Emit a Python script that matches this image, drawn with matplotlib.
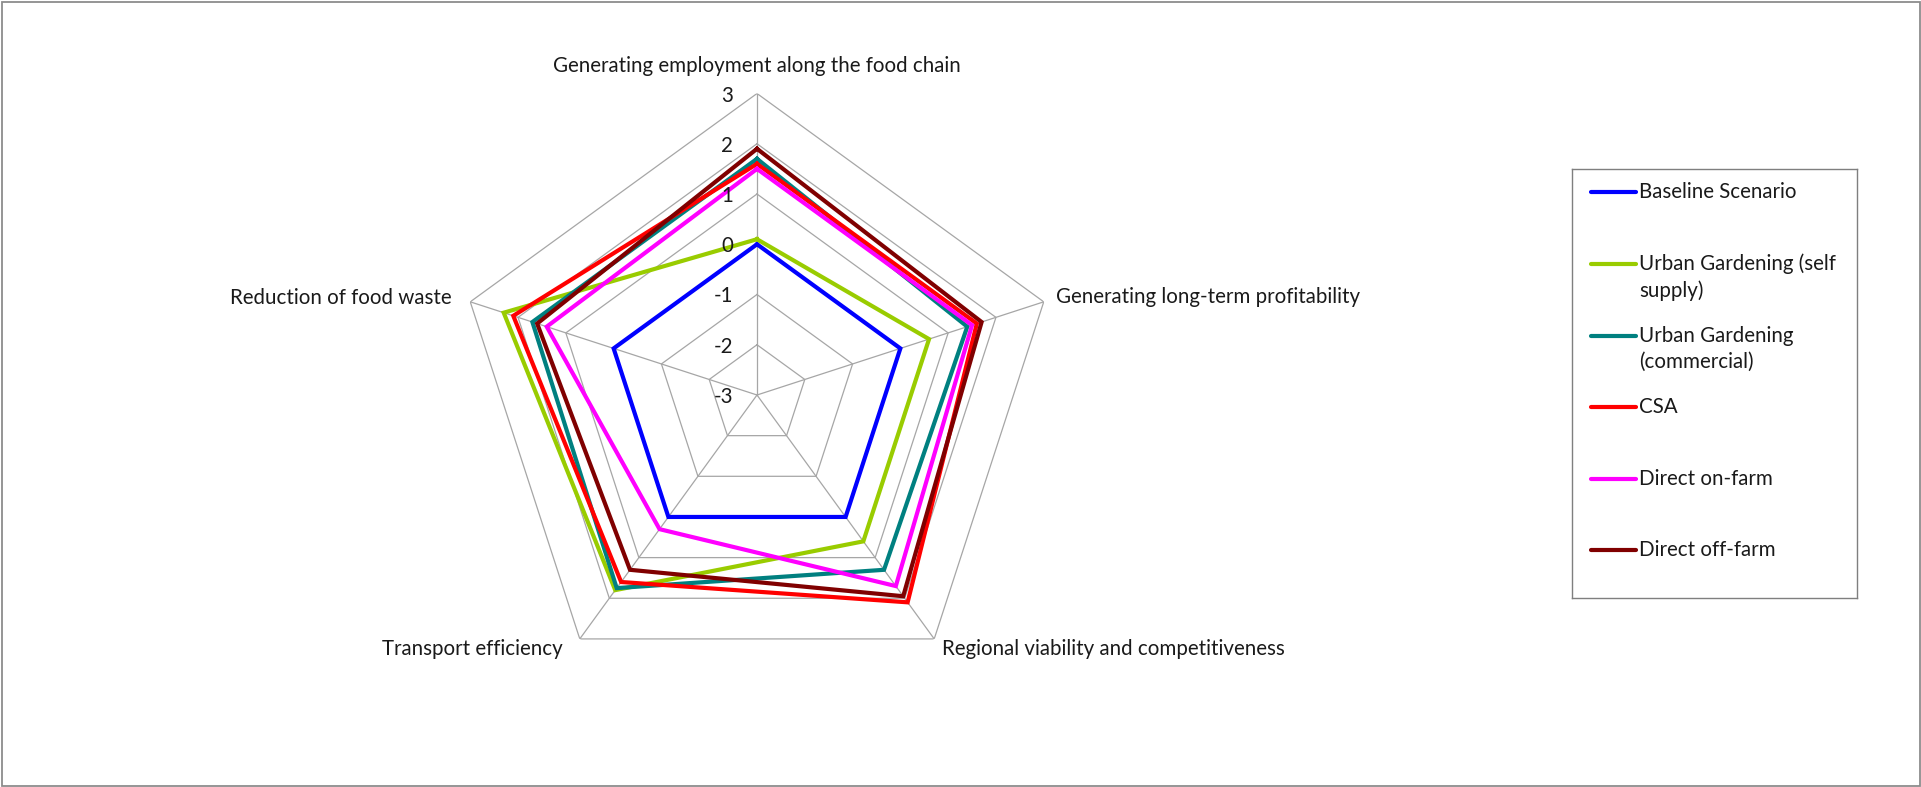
import numpy as np
import matplotlib
matplotlib.use("Agg")
import matplotlib.pyplot as plt
from matplotlib.patches import Rectangle

# ---------------- data ----------------
categories = [
    "Generating employment along the food chain",
    "Generating long-term profitability",
    "Regional viability and competitiveness",
    "Transport efficiency",
    "Reduction of food waste",
]
series_names = [
    "Baseline Scenario",
    "Urban Gardening (self\nsupply)",
    "Urban Gardening\n(commercial)",
    "CSA",
    "Direct on-farm",
    "Direct off-farm",
]
baseline = [0.0, 0.0, 0.0, 0.0, 0.0]
ug_self = [0.1, 0.6, 0.6, 1.8, 2.3]
ug_commercial = [1.7, 1.4, 1.3, 1.75, 1.7]
csa = [1.6, 1.6, 2.1, 1.6, 2.1]
direct_on_farm = [1.5, 1.5, 1.7, 0.3, 1.4]
direct_off_farm = [1.9, 1.7, 1.95, 1.3, 1.6]
series_values = [baseline, ug_self, ug_commercial, csa, direct_on_farm, direct_off_farm]
colors = ["#0000FF", "#99CC00", "#008080", "#FF0000", "#FF00FF", "#800000"]
ticks = [-3, -2, -1, 0, 1, 2, 3]

# ---------------- style ----------------
FONT = "Lato"
plt.rcParams["font.family"] = [FONT, "DejaVu Sans"]
TXT = "#1A1A1A"
GRID = "#A6A6A6"
FS = 14.8
LW = 3.0

W, H = 1921, 787
fig = plt.figure(figsize=(W / 100, H / 100), dpi=100)
fig.patch.set_facecolor("white")

cx, cy, R = 757.0, 395.0, 301.5
ax = fig.add_axes([(cx - R) / W, (H - cy - R) / H, 2 * R / W, 2 * R / H],
                  projection="polar")
ax.set_theta_offset(np.pi / 2)
ax.set_theta_direction(-1)
ax.set_ylim(ticks[0], ticks[-1])
ax.grid(False)
ax.spines["polar"].set_visible(False)
ax.set_xticks([])
ax.set_yticks([])
ax.patch.set_alpha(0)

n = len(categories)
theta = np.arange(n) * 2 * np.pi / n
closed_theta = np.append(theta, theta[0])

# polygon grid
for t in ticks[1:]:
    ax.plot(closed_theta, [t] * (n + 1), color=GRID, lw=0.9, zorder=1)
for th in theta:
    ax.plot([th, th], [ticks[0], ticks[-1]], color=GRID, lw=0.9, zorder=1)

# series
for vals, col in zip(series_values, colors):
    ax.plot(closed_theta, list(vals) + [vals[0]], color=col, lw=LW,
            solid_joinstyle="miter", zorder=3)

# radial tick labels
for t in ticks:
    ax.annotate(str(t), xy=(0, t), xytext=(-24, -2), textcoords="offset pixels",
                ha="right", va="center", fontsize=FS, color=TXT)

# category labels
label_offsets = [(0, 27, "center", "center"),
                 (12, -1, "left", "baseline"),
                 (8, -16, "left", "baseline"),
                 (-17, -16, "right", "baseline"),
                 (-19, -2, "right", "baseline")]
for th, lab, (dx, dy, ha, va) in zip(theta, categories, label_offsets):
    ax.annotate(lab, xy=(th, ticks[-1]), xytext=(dx, dy), textcoords="offset pixels",
                ha=ha, va=va, fontsize=FS, color=TXT)

# legend (box in pixel units)
lx0, ly0, lx1, ly1 = 1571.7, 169.3, 1857.3, 598.3
lax = fig.add_axes([lx0 / W, (H - ly1) / H, (lx1 - lx0) / W, (ly1 - ly0) / H])
lax.set_xlim(0, lx1 - lx0)
lax.set_ylim(ly1 - ly0, 0)
lax.set_xticks([])
lax.set_yticks([])
for s in lax.spines.values():
    s.set_color("#7F7F7F")
    s.set_linewidth(1.0)
entry_gap = 71.6
line_h = 26.7
for i, (name, col) in enumerate(zip(series_names, colors)):
    y = 23 + entry_gap * i
    lax.plot([19, 64.3], [y, y], color=col, lw=LW, solid_capstyle="round")
    for k, part in enumerate(name.split("\n")):
        lax.text(67.6, y + k * line_h, part, ha="left", va="center",
                 fontsize=FS, color=TXT)

# chart-area border
fig.patches.append(Rectangle((1.5 / W, 1.0 / H), (W - 3) / W, (H - 3) / H,
                             transform=fig.transFigure, fill=False,
                             edgecolor="#8C8C8C", lw=1.3))

fig.savefig("out.png", dpi=100)
